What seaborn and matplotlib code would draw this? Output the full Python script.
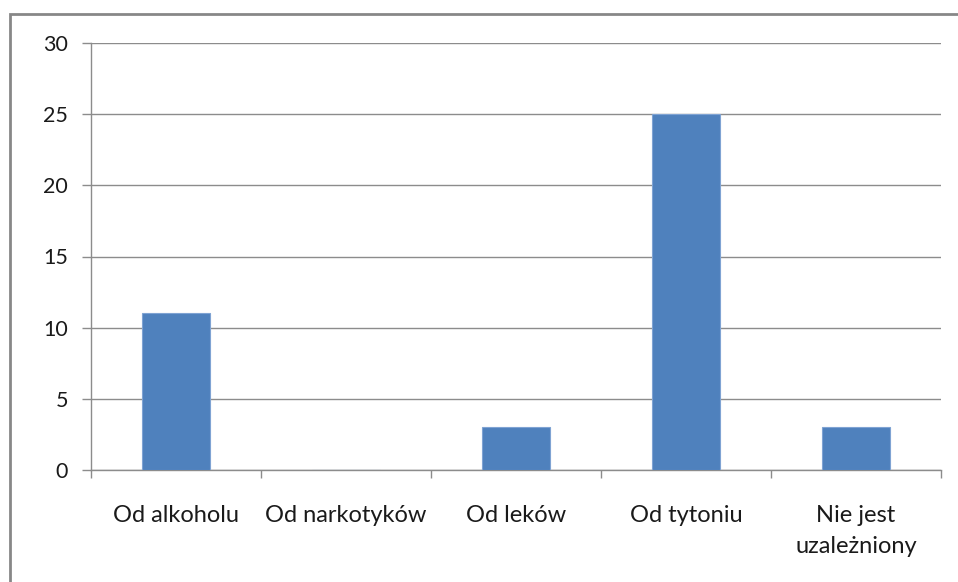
import matplotlib.pyplot as plt
import seaborn as sns
import pandas as pd
from matplotlib.patches import Rectangle

# Data - categories and counts
categories = ['Od alkoholu', 'Od narkotyków', 'Od leków', 'Od tytoniu', 'Nie jest\nuzależniony']
values = [11, 0, 3, 25, 3]
y_ticks = [0, 5, 10, 15, 20, 25, 30]

sns.set_theme(style="white")
plt.rcParams['font.family'] = ['Lato', 'DejaVu Sans']

grey = '#8c8c8c'

fig = plt.figure(figsize=(9.58, 5.82), dpi=100)
ax = fig.add_axes([91 / 958, 112 / 582, 850 / 958, 427 / 582])

df = pd.DataFrame({'Category': categories, 'Value': values})
sns.barplot(x='Category', y='Value', data=df, color='#4F81BD', saturation=1,
            width=0.4, edgecolor='#7fa3d3', linewidth=0.8, ax=ax, zorder=3)

ax.set_xlim(-0.5, len(categories) - 0.5)
ax.set_ylim(0, 30)
ax.set_yticks(y_ticks)
ax.set_xlabel('')
ax.set_ylabel('')

# gridlines
ax.yaxis.grid(True, color=grey, linewidth=1)
ax.set_axisbelow(True)

# spines
for side in ['top', 'right']:
    ax.spines[side].set_visible(False)
for side in ['left', 'bottom']:
    ax.spines[side].set_color(grey)
    ax.spines[side].set_linewidth(1)

# ticks: y outward, x ticks at category boundaries
ax.tick_params(axis='y', direction='out', length=6.5, width=1, color=grey,
               labelsize=15.5, labelcolor='#1a1a1a', pad=10, left=True)
ax.set_xticks([i - 0.5 for i in range(len(categories) + 1)], minor=True)
ax.tick_params(axis='x', which='minor', direction='out', length=6, width=1,
               color=grey, bottom=True)
ax.tick_params(axis='x', which='major', length=0, labelsize=17,
               labelcolor='#1a1a1a', pad=25)
for lbl in ax.get_xticklabels():
    lbl.set_linespacing(1.6)
    lbl.set_verticalalignment('top')

# chart border
fig.add_artist(Rectangle((9.5 / 958, -0.1), 1.2, 1 - 13.5 / 582 + 0.1,
                         transform=fig.transFigure, fill=False,
                         edgecolor='#878787', linewidth=2, clip_on=False))

plt.savefig('out.png', dpi=100)
